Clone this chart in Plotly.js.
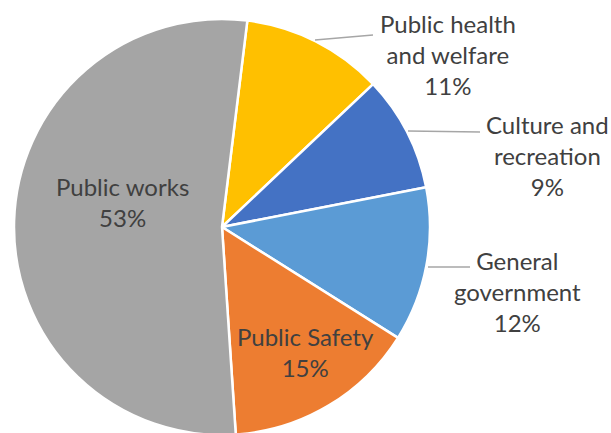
<!DOCTYPE html>
<html>
<head>
<meta charset="utf-8">
<script src="https://cdn.plot.ly/plotly-3.0.1.min.js"></script>
<style>
html,body{margin:0;padding:0;background:#fff;overflow:hidden;}
#chart{width:611px;height:433px;overflow:hidden;}
</style>
</head>
<body>
<div id="chart"></div>
<script>
// Data (clockwise from the top)
var categories = ["Public health<br>and welfare", "Culture and<br>recreation", "General<br>government", "Public Safety", "Public works"];
var values = [11, 9, 12, 15, 53];
var colors = ["#FFC000", "#4472C4", "#5B9BD5", "#ED7D31", "#A5A5A5"];

var W = 611, H = 437;
function px(x){ return x / W; }
function py(y){ return 1 - y / H; }

var total = values.reduce(function(a,b){return a+b;}, 0);
var pctText = values.map(function(v){ return Math.round(v / total * 100) + "%"; });

// label placement (pixel centres) and leader lines
var labelPos = [[448, 54], [547, 156], [517, 291], [305, 352], [122, 202]];
var leaders = [
  [[315, 40], [373, 35]],
  [[408, 131], [480, 132]],
  [[428, 267], [470, 267]],
  null, null
];

var trace = {
  type: "pie",
  values: values,
  labels: categories,
  sort: false,
  direction: "clockwise",
  rotation: 7,
  textinfo: "none",
  hoverinfo: "none",
  marker: { colors: colors, line: { color: "#ffffff", width: 2.5 } },
  domain: { x: [px(14), px(430)], y: [py(435), py(19)] },
  showlegend: false
};

var annotations = categories.map(function(c, i){
  return {
    xref: "paper", yref: "paper",
    x: px(labelPos[i][0]), y: py(labelPos[i][1]),
    xanchor: "center", yanchor: "middle",
    text: c + "<br>" + pctText[i],
    showarrow: false,
    align: "center",
    font: { family: "Lato, 'Open Sans', sans-serif", size: 24, color: "#404040" }
  };
});

var shapes = [];
leaders.forEach(function(l){
  if (!l) return;
  shapes.push({
    type: "line", xref: "paper", yref: "paper",
    x0: px(l[0][0]), y0: py(l[0][1]), x1: px(l[1][0]), y1: py(l[1][1]),
    line: { color: "#A6A6A6", width: 1.5 }
  });
});

var layout = {
  width: W, height: H,
  margin: { l: 0, r: 0, t: 0, b: 0 },
  paper_bgcolor: "#ffffff",
  annotations: annotations,
  shapes: shapes,
  showlegend: false
};

Plotly.newPlot("chart", [trace], layout, { displayModeBar: false, staticPlot: true });
</script>
</body>
</html>
